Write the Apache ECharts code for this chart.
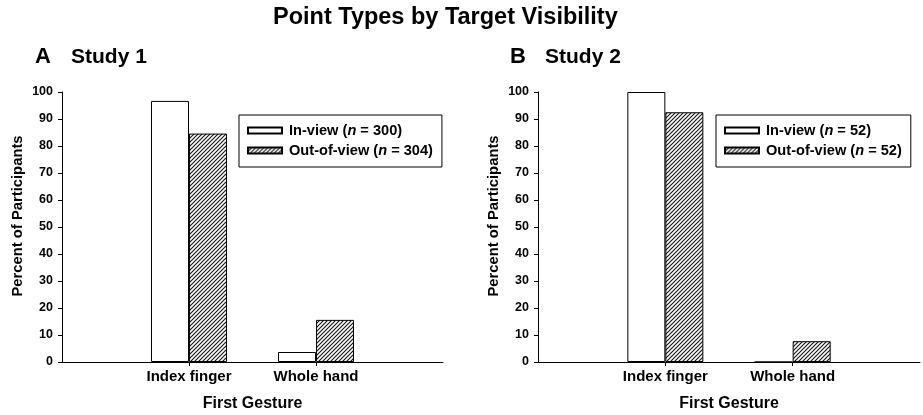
<!DOCTYPE html>
<html>
<head>
<meta charset="utf-8">
<script src="https://cdn.jsdelivr.net/npm/echarts@6/dist/echarts.min.js"></script>
<style>
html,body{margin:0;padding:0;background:#fff;}
#main{width:923px;height:415px;}
</style>
</head>
<body>
<div id="main"></div>
<script>
// ---- data ----
const categories = ['Index finger', 'Whole hand'];
const study1InView = [96.7, 3.7];
const study1OutView = [84.6, 15.6];
const study2InView = [100, 0];
const study2OutView = [92.5, 7.7];
const seriesNamesA = ['In-view (n = 300)', 'Out-of-view (n = 304)'];
const seriesNamesB = ['In-view (n = 52)', 'Out-of-view (n = 52)'];
const yTicks = { min: 0, max: 100, interval: 10 };

// ---- hatch pattern ----
function makeHatch() {
  const c = document.createElement('canvas');
  c.width = 4; c.height = 4;
  const ctx = c.getContext('2d');
  ctx.fillStyle = '#ffffff';
  ctx.fillRect(0, 0, 4, 4);
  ctx.strokeStyle = '#1a1a1a';
  ctx.lineWidth = 1.2;
  ctx.beginPath();
  ctx.moveTo(-1, 5); ctx.lineTo(5, -1);
  ctx.moveTo(-1, 1); ctx.lineTo(1, -1);
  ctx.moveTo(3, 5); ctx.lineTo(5, 3);
  ctx.stroke();
  return c;
}
const hatch = { image: makeHatch(), repeat: 'repeat' };

const FONT = '"Liberation Sans", Arial, sans-serif';
const axisData = [''].concat(categories, ['']);
function pad(arr) { return [null].concat(arr, [null]); }

function legendFormatter(name) {
  const idx = name.indexOf('(n');
  return '{r|' + name.slice(0, idx + 1) + '}{i|n}{r|' + name.slice(idx + 2) + '}';
}

function xAxisCfg(gi) {
  return {
    type: 'category', gridIndex: gi, data: axisData, boundaryGap: false,
    axisLine: { show: true, lineStyle: { color: '#000', width: 1 } },
    axisTick: { show: true, length: 4, lineStyle: { color: '#000' },
      interval: function (i) { return i === 1 || i === 2; } },
    axisLabel: { interval: 0, color: '#000', fontFamily: FONT, fontWeight: 'bold', fontSize: 15, margin: 7 },
    name: 'First Gesture', nameLocation: 'middle', nameGap: 34,
    nameTextStyle: { color: '#000', fontFamily: FONT, fontWeight: 'bold', fontSize: 16 },
    splitLine: { show: false }
  };
}
function yAxisCfg(gi) {
  return {
    type: 'value', gridIndex: gi, min: yTicks.min, max: yTicks.max, interval: yTicks.interval,
    axisLine: { show: true, lineStyle: { color: '#000', width: 1 } },
    axisTick: { show: true, length: 4, lineStyle: { color: '#000' } },
    axisLabel: { color: '#000', fontFamily: FONT, fontWeight: 'bold', fontSize: 12.5, margin: 9 },
    splitLine: { show: false },
    name: 'Percent of Participants', nameLocation: 'middle', nameGap: 37,
    nameTextStyle: { color: '#000', fontFamily: FONT, fontWeight: 'bold', fontSize: 14.8, padding: [0, 0, 0, 22] }
  };
}
function legendCfg(left, names) {
  return {
    orient: 'vertical', left: left, top: 115,
    data: names,
    borderColor: '#000', borderWidth: 1, padding: [8, 9, 9, 8],
    itemWidth: 34, itemHeight: 6, itemGap: 5,
    icon: 'rect',
    selectedMode: false,
    formatter: legendFormatter,
    textStyle: {
      color: '#000', fontFamily: FONT, fontWeight: 'bold', fontSize: 14.6, padding: [0, 0, 0, 2],
      rich: {
        r: { color: '#000', fontFamily: FONT, fontWeight: 'bold', fontSize: 14.6 },
        i: { color: '#000', fontFamily: FONT, fontWeight: 'bold', fontStyle: 'italic', fontSize: 14.6 }
      }
    }
  };
}
function barSeries(name, gi, data, fill) {
  return {
    type: 'bar', name: name, xAxisIndex: gi, yAxisIndex: gi, data: pad(data),
    barWidth: 38, barGap: '0%',
    itemStyle: { color: fill, borderColor: '#000', borderWidth: 1 },
    emphasis: { disabled: true }, animation: false
  };
}
function titleCfg(text, left, top, size) {
  return { text: text, left: left, top: top, padding: 0,
    textStyle: { color: '#000', fontFamily: FONT, fontWeight: 'bold', fontSize: size } };
}

const chart = echarts.init(document.getElementById('main'), null, { renderer: 'canvas' });
chart.setOption({
  backgroundColor: '#fff',
  animation: false,
  title: [
    titleCfg('Point Types by Target Visibility', 273, 6, 23.5),
    titleCfg('A', 35, 46, 22),
    titleCfg('Study 1', 71, 47, 21),
    titleCfg('B', 510, 46, 22),
    titleCfg('Study 2', 545, 47, 21)
  ],
  legend: [legendCfg(239, seriesNamesA), legendCfg(716, seriesNamesB)],
  grid: [
    { left: 62, right: 480, top: 92, bottom: 53, containLabel: false, outerBoundsMode: 'none' },
    { left: 538, right: 3, top: 92, bottom: 53, containLabel: false, outerBoundsMode: 'none' }
  ],
  xAxis: [xAxisCfg(0), xAxisCfg(1)],
  yAxis: [yAxisCfg(0), yAxisCfg(1)],
  series: [
    barSeries(seriesNamesA[0], 0, study1InView, '#ffffff'),
    barSeries(seriesNamesA[1], 0, study1OutView, hatch),
    barSeries(seriesNamesB[0], 1, study2InView, '#ffffff'),
    barSeries(seriesNamesB[1], 1, study2OutView, hatch)
  ]
});
</script>
</body>
</html>
